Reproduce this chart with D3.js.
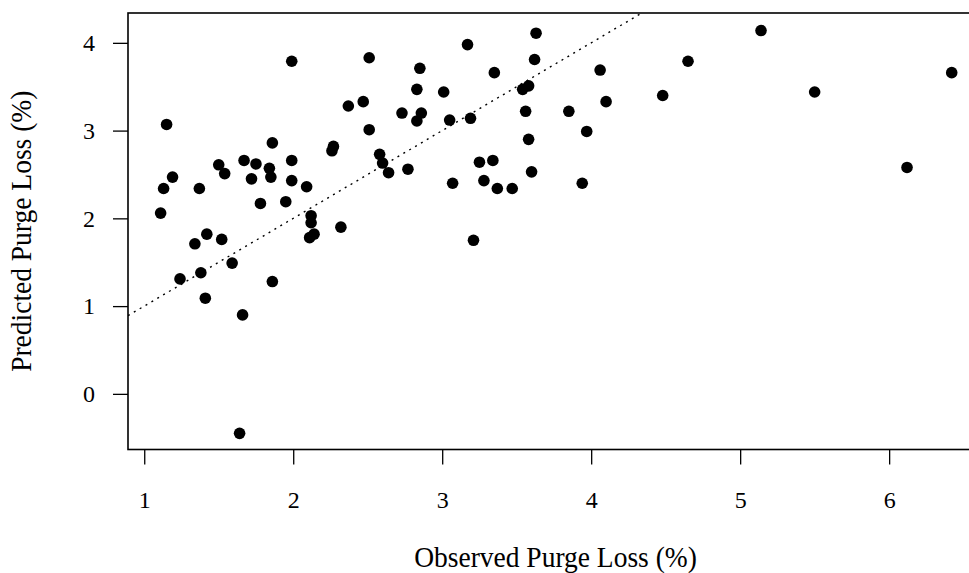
<!DOCTYPE html>
<html>
<head>
<meta charset="utf-8">
<script src="https://cdn.jsdelivr.net/npm/d3@7"></script>
<style>
  body { margin: 0; background: #fff; }
  svg text { font-family: "Liberation Serif", "Times New Roman", serif; fill: #000; }
</style>
</head>
<body>
<svg id="chart" width="969" height="573"></svg>
<script>
// observed vs predicted purge loss (%)
const observed = [
  1.11, 1.13, 1.15, 1.19, 1.24, 1.34, 1.37, 1.38, 1.42, 1.41,
  1.50, 1.52, 1.54, 1.59, 1.67, 1.66, 1.64, 1.72, 1.75, 1.78,
  1.84, 1.85, 1.86, 1.86, 1.95, 1.99, 1.99, 1.99, 2.09, 2.12,
  2.12, 2.14, 2.11, 2.27, 2.26, 2.32, 2.37, 2.47, 2.51, 2.51,
  2.58, 2.60, 2.64, 2.77, 2.73, 2.83, 2.83, 2.86, 2.85, 3.01,
  3.05, 3.07, 3.17, 3.19, 3.21, 3.25, 3.28, 3.34, 3.35, 3.37,
  3.47, 3.54, 3.58, 3.56, 3.58, 3.60, 3.62, 3.63, 3.85, 3.94,
  3.97, 4.06, 4.10, 4.48, 4.65, 5.14, 5.50, 6.12, 6.42
];
const predicted = [
  2.06, 2.34, 3.07, 2.47, 1.31, 1.71, 2.34, 1.38, 1.82, 1.09,
  2.61, 1.76, 2.51, 1.49, 2.66, 0.90, -0.45, 2.45, 2.62, 2.17,
  2.57, 2.47, 2.86, 1.28, 2.19, 3.79, 2.66, 2.43, 2.36, 2.03,
  1.95, 1.82, 1.78, 2.82, 2.77, 1.90, 3.28, 3.33, 3.83, 3.01,
  2.73, 2.63, 2.52, 2.56, 3.20, 3.47, 3.11, 3.20, 3.71, 3.44,
  3.12, 2.40, 3.98, 3.14, 1.75, 2.64, 2.43, 2.66, 3.66, 2.34,
  2.34, 3.47, 3.51, 3.22, 2.90, 2.53, 3.81, 4.11, 3.22, 2.40,
  2.99, 3.69, 3.33, 3.40, 3.79, 4.14, 3.44, 2.58, 3.66
];
const xTicks = [1, 2, 3, 4, 5, 6];
const yTicks = [0, 1, 2, 3, 4];
const xTitle = "Observed Purge Loss (%)";
const yTitle = "Predicted Purge Loss (%)";

const svg = d3.select("#chart");
const box = { left: 128, top: 13, right: 983, bottom: 449.5 };

// R style: axis range padded 4% past the data, right side runs off the image
const x = d3.scaleLinear().domain([0.891, 6.63]).range([box.left, box.right]);
const y = d3.scaleLinear().domain([-0.634, 4.34]).range([box.bottom, box.top]);

const points = observed.map((d, i) => ({ obs: d, pred: predicted[i] }));

// 1:1 reference line, clipped to the plot box
svg.append("clipPath").attr("id", "plotclip")
  .append("rect")
  .attr("x", box.left).attr("y", box.top)
  .attr("width", box.right - box.left).attr("height", box.bottom - box.top);

svg.append("line")
  .attr("clip-path", "url(#plotclip)")
  .attr("x1", x(0.891)).attr("y1", y(0.891))
  .attr("x2", x(4.34)).attr("y2", y(4.34))
  .attr("stroke", "#000")
  .attr("stroke-width", 1.4)
  .attr("stroke-dasharray", "2,4.8");

svg.selectAll("circle")
  .data(points)
  .enter().append("circle")
  .attr("cx", d => x(d.obs))
  .attr("cy", d => y(d.pred))
  .attr("r", 5.8)
  .attr("fill", "#000");

// frame
svg.append("rect")
  .attr("x", box.left).attr("y", box.top)
  .attr("width", box.right - box.left).attr("height", box.bottom - box.top)
  .attr("fill", "none")
  .attr("stroke", "#000")
  .attr("stroke-width", 1.6);

// bottom axis, drawn below the frame like base R
const xAxis = svg.append("g")
  .attr("transform", `translate(0,${box.bottom})`)
  .call(d3.axisBottom(x).tickValues(xTicks).tickSize(15).tickPadding(26).tickFormat(d3.format("d")));
xAxis.select(".domain").remove();
xAxis.selectAll(".tick line").attr("stroke-width", 1.3);
xAxis.selectAll("text").attr("font-size", 24);

const yAxis = svg.append("g")
  .attr("transform", `translate(${box.left},0)`)
  .call(d3.axisLeft(y).tickValues(yTicks).tickSize(15).tickPadding(18).tickFormat(d3.format("d")));
yAxis.select(".domain").remove();
yAxis.selectAll(".tick line").attr("stroke-width", 1.3);
yAxis.selectAll("text").attr("font-size", 24);

// axis titles: glyphs a bit taller than wide in the reference
svg.append("text")
  .attr("transform", `translate(${(box.left + box.right) / 2},567) scale(1,1.08)`)
  .attr("text-anchor", "middle")
  .attr("font-size", 27.5)
  .text(xTitle);

svg.append("text")
  .attr("transform", `translate(31,${(box.top + box.bottom) / 2}) rotate(-90) scale(1,1.08)`)
  .attr("text-anchor", "middle")
  .attr("font-size", 27.5)
  .text(yTitle);
</script>
</body>
</html>
